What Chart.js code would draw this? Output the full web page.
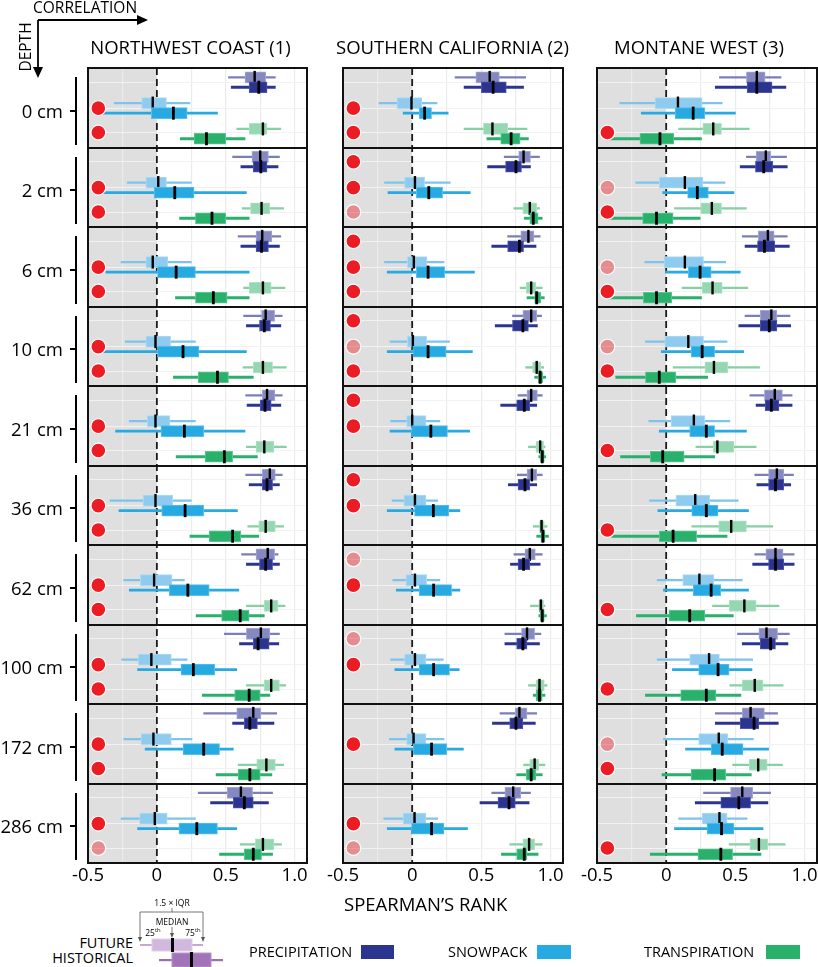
<!DOCTYPE html>
<html>
<head>
<meta charset="utf-8">
<script src="https://cdn.jsdelivr.net/npm/chart.js@4.4.1/dist/chart.umd.min.js"></script>
<style>
  body { margin: 0; background: #fff; font-family: 'Open Sans', sans-serif; color: #000; }
  #fig { position: relative; width: 818px; height: 967px; overflow: hidden; }
  #fig canvas { position: absolute; top: 0; }
  .txt { position: absolute; white-space: nowrap; }
  .title { font-size: 18.5px; line-height: 22px; text-align: center; width: 320px; top: 36px; }
  .depth { font-size: 18.5px; line-height: 24px; text-align: right; left: 0; width: 63px; }
  .blk { position: absolute; background: #000; }
  .leg { font-size: 14.5px; line-height: 18px; }
  .tiny { font-size: 8.5px; line-height: 10px; text-align: center; }
  sup { font-size: 70%; line-height: 0; }
</style>
</head>
<body>
<div id="fig"></div>
<script>
// categories and labels
const depths = ['0 cm', '2 cm', '6 cm', '10 cm', '21 cm', '36 cm', '62 cm', '100 cm', '172 cm', '286 cm'];
const regionTitles = ['NORTHWEST COAST (1)', 'SOUTHERN CALIFORNIA (2)', 'MONTANE WEST (3)'];
const variables = ['PRECIPITATION', 'SNOWPACK', 'TRANSPIRATION'];
const xGridValues = [-0.5, -0.25, 0, 0.25, 0.5, 0.75, 1.0];
const xTickValues = [-0.5, 0, 0.5, 1.0];
const xTickLabels = ['-0.5', '0', '0.5', '1.0'];

// box stats per depth: [lower whisker, 25th, median, 75th, upper whisker]
const nwPrecipFut = [[0.52,0.64,0.71,0.79,0.86],[0.55,0.69,0.75,0.81,0.89],[0.59,0.72,0.765,0.835,0.90],[0.63,0.76,0.79,0.855,0.91],[0.645,0.765,0.80,0.857,0.91],[0.645,0.765,0.82,0.86,0.91],[0.615,0.72,0.805,0.855,0.88],[0.49,0.65,0.755,0.82,0.89],[0.34,0.58,0.70,0.755,0.87],[0.30,0.51,0.61,0.695,0.84]];
const nwPrecipHist = [[0.54,0.67,0.74,0.80,0.86],[0.61,0.70,0.755,0.80,0.88],[0.61,0.72,0.76,0.81,0.89],[0.65,0.745,0.78,0.825,0.90],[0.655,0.75,0.785,0.83,0.90],[0.67,0.765,0.80,0.84,0.89],[0.65,0.745,0.79,0.84,0.89],[0.60,0.70,0.735,0.815,0.885],[0.55,0.635,0.675,0.73,0.85],[0.39,0.555,0.635,0.70,0.81]];
const nwSnowFut = [[-0.31,-0.11,-0.03,0.07,0.24],[-0.215,-0.08,0.01,0.07,0.25],[-0.26,-0.08,-0.03,0.08,0.25],[-0.23,-0.08,-0.01,0.10,0.28],[-0.20,-0.07,-0.01,0.095,0.28],[-0.34,-0.10,-0.01,0.115,0.25],[-0.24,-0.12,-0.02,0.11,0.20],[-0.255,-0.135,-0.04,0.105,0.22],[-0.24,-0.115,-0.025,0.105,0.255],[-0.26,-0.125,-0.015,0.075,0.28]];
const nwSnowHist = [[-0.42,-0.04,0.12,0.22,0.44],[-0.42,-0.02,0.13,0.27,0.65],[-0.37,0.0,0.14,0.28,0.67],[-0.42,0.0,0.19,0.305,0.65],[-0.30,0.03,0.20,0.34,0.64],[-0.275,0.035,0.205,0.34,0.585],[-0.20,0.09,0.225,0.38,0.595],[-0.14,0.175,0.265,0.42,0.58],[-0.085,0.19,0.34,0.455,0.555],[-0.14,0.16,0.29,0.44,0.58]];
const nwTranspFut = [[0.58,0.67,0.77,0.80,0.90],[0.62,0.68,0.76,0.82,0.92],[0.63,0.67,0.77,0.83,0.93],[0.625,0.70,0.77,0.84,0.94],[0.65,0.72,0.78,0.85,0.94],[0.66,0.74,0.79,0.86,0.92],[0.65,0.78,0.83,0.88,0.93],[0.65,0.78,0.83,0.89,0.935],[0.59,0.725,0.795,0.86,0.92],[0.605,0.715,0.77,0.85,0.905]];
const nwTranspHist = [[0.17,0.27,0.36,0.50,0.64],[0.165,0.28,0.40,0.50,0.67],[0.135,0.28,0.41,0.51,0.67],[0.12,0.30,0.44,0.52,0.70],[0.14,0.35,0.49,0.55,0.73],[0.24,0.38,0.55,0.61,0.74],[0.285,0.47,0.605,0.67,0.78],[0.33,0.565,0.67,0.75,0.82],[0.43,0.59,0.675,0.75,0.835],[0.455,0.635,0.70,0.76,0.84]];

const scPrecipFut = [[0.31,0.46,0.56,0.63,0.82],[0.665,0.77,0.805,0.855,0.92],[0.69,0.785,0.84,0.88,0.925],[0.725,0.80,0.86,0.90,0.935],[0.765,0.83,0.86,0.905,0.94],[0.76,0.83,0.865,0.90,0.94],[0.735,0.815,0.85,0.89,0.94],[0.67,0.79,0.83,0.885,0.93],[0.635,0.745,0.775,0.83,0.90],[0.575,0.67,0.73,0.785,0.855]];
const scPrecipHist = [[0.375,0.50,0.585,0.68,0.805],[0.545,0.675,0.75,0.79,0.855],[0.575,0.69,0.775,0.805,0.895],[0.60,0.725,0.80,0.84,0.905],[0.64,0.755,0.81,0.85,0.90],[0.695,0.765,0.815,0.85,0.90],[0.71,0.765,0.805,0.85,0.925],[0.67,0.755,0.80,0.83,0.92],[0.58,0.705,0.75,0.80,0.89],[0.49,0.62,0.70,0.745,0.845]];
const scSnowFut = [[-0.24,-0.11,-0.005,0.07,0.18],[-0.20,-0.055,0.02,0.09,0.275],[-0.20,-0.035,0.012,0.107,0.23],[-0.16,-0.035,0.005,0.105,0.27],[-0.155,-0.04,0.0,0.10,0.20],[-0.145,-0.06,0.02,0.10,0.185],[-0.14,-0.045,0.02,0.105,0.20],[-0.155,-0.055,0.02,0.10,0.225],[-0.165,-0.04,0.01,0.10,0.23],[-0.205,-0.065,0.017,0.10,0.185]];
const scSnowHist = [[-0.065,0.05,0.09,0.14,0.26],[-0.175,0.03,0.12,0.22,0.42],[-0.18,0.03,0.115,0.235,0.45],[-0.18,0.0,0.115,0.245,0.435],[-0.16,-0.005,0.135,0.255,0.415],[-0.18,0.017,0.153,0.265,0.345],[-0.115,0.05,0.155,0.285,0.345],[-0.125,0.05,0.155,0.27,0.34],[-0.125,0.007,0.14,0.25,0.37],[-0.18,-0.005,0.14,0.23,0.40]];
const scTranspFut = [[0.375,0.515,0.58,0.69,0.83],[0.735,0.80,0.85,0.90,0.92],[0.78,0.825,0.86,0.895,0.94],[0.82,0.87,0.90,0.93,0.95],[0.84,0.895,0.925,0.95,0.96],[0.875,0.92,0.935,0.955,0.975],[0.855,0.915,0.93,0.95,0.96],[0.84,0.895,0.92,0.955,0.975],[0.805,0.85,0.885,0.915,0.96],[0.705,0.80,0.845,0.885,0.94]];
const scTranspHist = [[0.54,0.64,0.715,0.78,0.84],[0.81,0.85,0.875,0.91,0.94],[0.83,0.885,0.90,0.93,0.955],[0.885,0.91,0.925,0.945,0.965],[0.915,0.925,0.94,0.955,0.965],[0.90,0.93,0.945,0.96,0.985],[0.915,0.925,0.94,0.955,0.97],[0.875,0.895,0.92,0.94,0.96],[0.755,0.825,0.86,0.895,0.94],[0.645,0.755,0.81,0.83,0.91]];

const mwPrecipFut = [[0.385,0.58,0.655,0.715,0.83],[0.58,0.65,0.72,0.755,0.87],[0.55,0.665,0.735,0.78,0.875],[0.57,0.68,0.76,0.80,0.895],[0.605,0.71,0.785,0.84,0.91],[0.64,0.74,0.80,0.85,0.92],[0.64,0.72,0.79,0.845,0.925],[0.515,0.67,0.725,0.805,0.89],[0.355,0.55,0.61,0.71,0.805],[0.27,0.465,0.55,0.625,0.755]];
const mwPrecipHist = [[0.355,0.585,0.655,0.765,0.865],[0.535,0.645,0.705,0.77,0.875],[0.57,0.66,0.71,0.785,0.89],[0.525,0.68,0.745,0.80,0.90],[0.65,0.715,0.76,0.815,0.91],[0.655,0.74,0.79,0.85,0.90],[0.625,0.74,0.79,0.85,0.925],[0.55,0.68,0.755,0.79,0.88],[0.355,0.535,0.635,0.67,0.81],[0.21,0.395,0.525,0.61,0.735]];
const mwSnowFut = [[-0.335,-0.08,0.085,0.26,0.405],[-0.22,-0.05,0.135,0.265,0.425],[-0.155,-0.015,0.135,0.27,0.43],[-0.15,-0.01,0.16,0.27,0.44],[-0.125,0.035,0.20,0.28,0.46],[-0.12,0.07,0.21,0.315,0.52],[-0.065,0.12,0.24,0.345,0.55],[-0.065,0.17,0.31,0.385,0.625],[-0.02,0.235,0.38,0.445,0.63],[0.09,0.26,0.385,0.44,0.585]];
const mwSnowHist = [[-0.18,0.065,0.195,0.28,0.50],[-0.025,0.155,0.225,0.305,0.49],[-0.005,0.16,0.245,0.325,0.535],[-0.035,0.18,0.26,0.35,0.56],[-0.05,0.17,0.29,0.35,0.58],[-0.06,0.185,0.29,0.375,0.595],[-0.02,0.195,0.325,0.395,0.595],[0.045,0.235,0.375,0.455,0.62],[0.14,0.325,0.405,0.555,0.74],[0.06,0.295,0.40,0.49,0.70]];
const mwTranspFut = [[0.09,0.265,0.34,0.40,0.60],[0.06,0.25,0.33,0.40,0.58],[0.115,0.26,0.335,0.405,0.59],[0.05,0.28,0.345,0.445,0.675],[0.215,0.34,0.37,0.49,0.65],[0.185,0.38,0.47,0.58,0.77],[0.335,0.455,0.565,0.65,0.815],[0.46,0.55,0.64,0.70,0.845],[0.48,0.60,0.665,0.73,0.84],[0.455,0.605,0.67,0.735,0.86]];
const mwTranspHist = [[-0.42,-0.19,-0.045,0.055,0.255],[-0.42,-0.17,-0.07,0.05,0.245],[-0.42,-0.165,-0.07,0.04,0.255],[-0.365,-0.15,-0.05,0.07,0.30],[-0.33,-0.115,-0.025,0.13,0.35],[-0.395,-0.05,0.05,0.22,0.44],[-0.215,0.02,0.17,0.28,0.485],[-0.15,0.105,0.29,0.36,0.54],[-0.03,0.18,0.35,0.43,0.615],[-0.115,0.23,0.395,0.48,0.685]];

// red markers per depth [precip, snow, transp]: 2 = solid, 1 = faded, 0 = none
const nwDots = [[0,2,2],[0,2,2],[0,2,2],[0,2,2],[0,2,2],[0,2,2],[0,2,2],[0,2,2],[0,2,2],[0,2,1]];
const scDots = [[0,2,2],[2,2,1],[2,2,2],[2,1,2],[2,2,0],[2,2,0],[1,2,0],[1,2,0],[0,2,0],[0,2,1]];
const mwDots = [[0,0,2],[0,1,2],[0,1,2],[0,1,2],[0,0,2],[0,0,2],[0,0,2],[0,0,2],[0,1,2],[0,0,2]];

const regions = [
  { stats: [[nwPrecipFut, nwPrecipHist], [nwSnowFut, nwSnowHist], [nwTranspFut, nwTranspHist]], dots: nwDots },
  { stats: [[scPrecipFut, scPrecipHist], [scSnowFut, scSnowHist], [scTranspFut, scTranspHist]], dots: scDots },
  { stats: [[mwPrecipFut, mwPrecipHist], [mwSnowFut, mwSnowHist], [mwTranspFut, mwTranspHist]], dots: mwDots }
];

// layout
const COLS = [{ left: 88, right: 307 }, { left: 343, right: 563 }, { left: 597, right: 817 }];
const PANEL_TOP = 68, PANEL_BOTTOM = 863;
const PANEL_H = (PANEL_BOTTOM - PANEL_TOP) / depths.length;
const PAD_L = 30, PAD_R = 10, CANVAS_H = 900;
const X_MIN = -0.5, X_MAX = 1.09;
const ROW_POS = [[0.118, 0.242], [0.441, 0.568], [0.766, 0.89]]; // [future, historical]
const DOT_POS = [0.18, 0.505, 0.812];
const DOT_X = -0.425;

const COLORS = {
  hist: ['#2b3590', '#27a9e1', '#29b16c'],
  histEdge: ['#4c55a8', '#5cc0ea', '#5cc692'],
  fut: ['#8689bf', '#8ecbee', '#95d7b0'],
  futWhisker: ['#7b7fb9', '#7cc4ec', '#86d0a4'],
  futEdge: ['#a4a6d1', '#aedaf3', '#b0e1c4']
};

Chart.defaults.font.family = "'Open Sans', sans-serif";

const panelPlugin = {
  id: 'panels',
  beforeDraw(chart) {
    const { ctx, chartArea: a, scales: { x } } = chart;
    ctx.save();
    ctx.fillStyle = '#dfdfdf';
    ctx.fillRect(a.left, a.top, x.getPixelForValue(0) - a.left, a.bottom - a.top);
    ctx.restore();
  },
  afterDraw(chart) {
    const { ctx, chartArea: a, scales: { y } } = chart;
    ctx.save();
    ctx.strokeStyle = '#111';
    ctx.lineWidth = 2;
    ctx.strokeRect(a.left, a.top, a.right - a.left, a.bottom - a.top);
    for (let i = 1; i < depths.length; i++) {
      const py = Math.round(y.getPixelForValue(i));
      ctx.beginPath();
      ctx.moveTo(a.left, py);
      ctx.lineTo(a.right, py);
      ctx.stroke();
    }
    ctx.restore();
  }
};

function buildDatasets(region) {
  const sets = [];
  let k = 0;
  const push = ds => { ds.order = -(k++); sets.push(ds); };

  // dashed zero line
  push({
    type: 'scatter', data: [{ x: 0, y: 0 }, { x: 0, y: depths.length }],
    showLine: true, borderColor: '#1a1a1a', borderWidth: 1.8, borderDash: [7, 4], pointRadius: 0
  });

  region.stats.forEach((pair, v) => {
    pair.forEach((stats, p) => {
      const hist = p === 1;
      const yOf = i => i + ROW_POS[v][p];
      push({
        type: 'bar', indexAxis: 'y', grouped: false,
        data: stats.map((s, i) => ({ x: [s[0], s[4]], y: yOf(i) })),
        barThickness: hist ? 2.2 : 1.7,
        backgroundColor: hist ? COLORS.hist[v] : COLORS.futWhisker[v],
        borderWidth: 0
      });
      push({
        type: 'bar', indexAxis: 'y', grouped: false,
        data: stats.map((s, i) => ({ x: [s[1], s[3]], y: yOf(i) })),
        barThickness: 11,
        backgroundColor: hist ? COLORS.hist[v] : COLORS.fut[v],
        borderColor: hist ? COLORS.histEdge[v] : COLORS.futEdge[v],
        borderWidth: 1, borderSkipped: false
      });
      push({
        type: 'scatter',
        data: stats.map((s, i) => ({ x: s[2], y: yOf(i) })),
        pointStyle: 'line', pointRotation: 90, pointRadius: 6.5,
        pointBorderColor: '#000', pointBorderWidth: hist ? 2.8 : 2.4
      });
    });
  });

  const dotData = [], dotColors = [];
  region.dots.forEach((row, i) => {
    row.forEach((code, v) => {
      if (!code) return;
      dotData.push({ x: DOT_X, y: i + DOT_POS[v] });
      dotColors.push(code === 2 ? '#ec1c24' : 'rgba(236,28,36,0.42)');
    });
  });
  push({
    type: 'scatter', data: dotData,
    pointRadius: 7.4, pointBackgroundColor: dotColors,
    pointBorderColor: '#ffffff', pointBorderWidth: 1.2
  });
  return sets;
}

const fig = document.getElementById('fig');

regions.forEach((region, c) => {
  const col = COLS[c];
  const cv = document.createElement('canvas');
  const w = col.right - col.left + PAD_L + PAD_R;
  cv.width = w;
  cv.height = CANVAS_H;
  cv.style.left = (col.left - PAD_L) + 'px';
  cv.style.width = w + 'px';
  cv.style.height = CANVAS_H + 'px';
  fig.appendChild(cv);

  const yGrid = [];
  depths.forEach((d, i) => DOT_POS.forEach(p => yGrid.push(i + p)));

  new Chart(cv.getContext('2d'), {
    type: 'bar',
    data: { datasets: buildDatasets(region) },
    options: {
      indexAxis: 'y',
      responsive: false,
      animation: false,
      events: [],
      layout: { padding: { left: PAD_L, right: PAD_R, top: PANEL_TOP, bottom: 0 }, autoPadding: false },
      plugins: { legend: { display: false }, tooltip: { enabled: false } },
      scales: {
        x: {
          type: 'linear', position: 'bottom', min: X_MIN, max: X_MAX,
          afterBuildTicks: s => { s.ticks = xGridValues.map(v => ({ value: v })); },
          afterFit: s => { s.height = CANVAS_H - PANEL_BOTTOM; },
          grid: {
            drawTicks: false, lineWidth: 1.2,
            color: ctx => (ctx.tick && (ctx.tick.value === 0 || ctx.tick.value === X_MIN)) ? 'rgba(0,0,0,0)' : '#ebebeb'
          },
          border: { display: false },
          ticks: {
            autoSkip: false, maxRotation: 0, padding: 2, color: '#000',
            font: { size: 18.5 },
            callback: v => {
              const idx = xTickValues.findIndex(t => Math.abs(t - v) < 1e-9);
              return idx >= 0 ? xTickLabels[idx] : '';
            }
          }
        },
        y: {
          type: 'linear', min: 0, max: depths.length, reverse: true, offset: false,
          afterBuildTicks: s => { s.ticks = yGrid.map(v => ({ value: v })); },
          ticks: { display: false },
          grid: { drawTicks: false, offset: false, color: '#f2f2f2', lineWidth: 1 },
          border: { display: false }
        }
      }
    },
    plugins: [panelPlugin]
  });

  const t = document.createElement('div');
  t.className = 'txt title';
  t.textContent = regionTitles[c];
  const centers = [190.5, 452.5, 699];
  t.style.left = (centers[c] - 160) + 'px';
  fig.appendChild(t);
});

// depth labels with brackets
depths.forEach((d, i) => {
  const top = PANEL_TOP + i * PANEL_H;
  const mid = top + PANEL_H / 2 + 3;
  const lab = document.createElement('div');
  lab.className = 'txt depth';
  lab.style.top = (mid - 12) + 'px';
  lab.textContent = d;
  fig.appendChild(lab);
  const bar = document.createElement('div');
  bar.className = 'blk';
  bar.style.cssText += `left:75px;width:2px;top:${top + 9}px;height:${PANEL_H - 12}px;`;
  fig.appendChild(bar);
  const tick = document.createElement('div');
  tick.className = 'blk';
  tick.style.cssText += `left:70px;width:6px;top:${mid - 1}px;height:2px;`;
  fig.appendChild(tick);
});

// static annotations
fig.insertAdjacentHTML('beforeend', `
  <div class="txt" style="left:33px;top:-3px;font-size:15.5px;line-height:20px;">CORRELATION</div>
  <div class="txt" style="left:0px;top:37px;width:50px;text-align:center;font-size:15.5px;line-height:20px;transform:translate(0px,0px) rotate(-90deg);transform-origin:25px 10px;">DEPTH</div>
  <svg style="position:absolute;left:0;top:0" width="160" height="90">
    <path d="M38 20 H140 M38 20 V70" stroke="#000" stroke-width="1.8" fill="none"/>
    <path d="M148 20 L137 15 L137 25 Z" fill="#000"/>
    <path d="M38 78 L33 67 L43 67 Z" fill="#000"/>
  </svg>
  <div class="txt" style="left:344px;top:893px;font-size:18.5px;line-height:22px;">SPEARMAN’S RANK</div>

  <div class="txt leg" style="left:0;width:133px;text-align:right;top:934px;">FUTURE</div>
  <div class="txt leg" style="left:0;width:133px;text-align:right;top:949px;">HISTORICAL</div>
  <div class="txt tiny" style="left:147px;width:50px;top:898px;">1.5 × IQR</div>
  <div class="txt tiny" style="left:147px;width:50px;top:917px;">MEDIAN</div>
  <div class="txt tiny" style="left:140px;width:26px;top:928px;">25<sup>th</sup></div>
  <div class="txt tiny" style="left:180px;width:26px;top:928px;">75<sup>th</sup></div>
  <svg style="position:absolute;left:130px;top:895px" width="100" height="72">
    <path d="M10 17 H73 M10 17 V44 M73 17 V44 M42 13 V17" stroke="#555" stroke-width="0.8" fill="none"/>
    <path d="M42 32 V40" stroke="#555" stroke-width="0.8"/>
    <path d="M10 47 L8 42 L12 42 Z M73 47 L71 42 L75 42 Z M42 43 L40 38 L44 38 Z" fill="#555"/>
    <rect x="10" y="49" width="63" height="2" fill="#c6a8d4"/>
    <rect x="22" y="44" width="40" height="12" fill="#d2b8de" stroke="#e2d0ea" stroke-width="1"/>
    <rect x="41" y="43" width="3" height="14" fill="#000"/>
    <rect x="29" y="64" width="64" height="2.2" fill="#9d6db4"/>
    <rect x="42" y="58" width="39" height="14" fill="#a273b8" stroke="#b893cc" stroke-width="1"/>
    <rect x="60" y="57" width="3" height="15" fill="#000"/>
  </svg>

  <div class="txt leg" style="left:249px;top:943px;">${variables[0]}</div>
  <div class="blk" style="left:361px;top:945px;width:33px;height:14px;background:${COLORS.hist[0]};"></div>
  <div class="txt leg" style="left:448px;top:943px;">${variables[1]}</div>
  <div class="blk" style="left:537px;top:945px;width:34px;height:14px;background:${COLORS.hist[1]};"></div>
  <div class="txt leg" style="left:644px;top:943px;">${variables[2]}</div>
  <div class="blk" style="left:766px;top:945px;width:34px;height:14px;background:${COLORS.hist[2]};"></div>
`);
</script>
</body>
</html>
